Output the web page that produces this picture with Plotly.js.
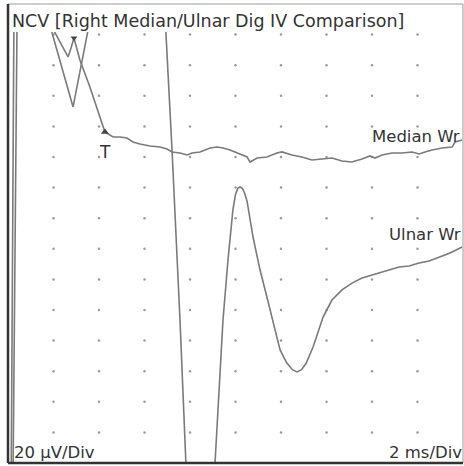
<!DOCTYPE html>
<html>
<head>
<meta charset="utf-8">
<script src="https://cdn.plot.ly/plotly-3.0.1.min.js"></script>
<style>
html,body{margin:0;padding:0;background:#fff;}
#chart{width:464px;height:466px;}
</style>
</head>
<body>
<div id="chart"></div>
<script>
// Time axis in ms (2 ms/Div), amplitude in µV (20 µV/Div)
var medianTime = [0.22,0.40,1.41,1.63,2.07,2.37,2.64,2.77,2.90,3.16,3.60,4.04,4.26,4.62,4.92,5.23,5.49,5.80,6.24,6.68,6.99,7.21,7.56,7.87,8.09,8.44,8.88,9.19,9.45,9.76,10.07,10.51,10.64,10.95,11.38,11.82,12.04,12.48,12.92,13.36,13.80,14.24,14.68,15.12,15.56,15.91,16.13,16.44,16.88,17.32,17.76,18.07,18.33,18.64,19.08,19.52,19.65,19.96];
var medianAmp  = [-11,293,303,293,281.1,273.2,265.4,271.2,277.8,263.4,245.8,226.1,216.3,213.1,213.1,212.4,209.8,208.5,207.2,206.5,205.2,203.3,202.6,201.3,202.6,203.3,205.9,206.5,205.9,204.6,202.6,200.0,196.7,199.3,200.0,202.6,203.3,201.3,200.0,198.0,198.7,199.3,197.4,196.7,198.7,200.7,199.3,201.3,202.6,202.6,203.3,202.0,203.3,204.6,205.9,206.5,209.8,211.1];

var ulnarTime = [0.14,0.26,1.41,1.71,2.86,3.65,5.27,6.90,7.21,7.56,7.82,7.87,8.44,9.05,9.10,9.32,9.45,9.67,9.89,10.00,10.10,10.20,10.30,10.40,10.51,10.77,11.08,11.38,11.65,11.96,12.25,12.50,12.70,12.90,13.10,13.41,13.85,14.24,14.68,15.12,15.56,16.00,16.57,17.19,17.63,18.07,18.51,18.95,19.43,19.96];
var ulnarAmp  = [-11,290,300,293,232.7,293,303,293,204.6,93.5,0,-11,-24,-11,0,54.2,93.5,132.7,166.0,175.5,179.5,180.4,179.5,176.5,171.0,147.7,126.1,108.5,91.5,73.9,65.5,61.0,59.5,61.0,65.0,75.8,95.4,106.5,113.1,117.6,120.9,122.9,125.5,128.1,128.8,130.7,132.0,134.6,137.3,141.2];

// cursor markers
var peakMarkerTime = [2.90], peakMarkerAmp = [277.8];
var takeoffMarkerTime = [4.26], takeoffMarkerAmp = [216.3];
var takeoffLabel = ['T'];

// grid dots (divisions)
var gridTimes = [2,4,6,8,10,12,14,16,18];
var gridAmps = [20,40,60,80,100,120,140,160,180,200,220,240,260,280];

var traceLabels = ['Median Wr','Ulnar Wr'];
var titleText = 'NCV [Right Median/Ulnar Dig IV Comparison]';
var sensLabel = '20 µV/Div';
var sweepLabel = '2 ms/Div';

var W = 464, H = 466;
var L = 8, R = 463, T = 32, B = 463;
function px(x){ return (x - L) / (R - L); }
function py(y){ return (B - y) / (B - T); }

var dotX = [], dotY = [];
gridTimes.forEach(function(t){ gridAmps.forEach(function(a){ dotX.push(t); dotY.push(a); }); });

var lineColor = '#7a7a7a';
var data = [
  {x: dotX, y: dotY, mode: 'markers', type: 'scatter', marker: {size: 2.5, color: '#9a9a9a'}, hoverinfo: 'skip', showlegend: false},
  {x: medianTime, y: medianAmp, mode: 'lines', type: 'scatter', line: {color: lineColor, width: 1.6}, showlegend: false},
  {x: ulnarTime, y: ulnarAmp, mode: 'lines', type: 'scatter', line: {color: lineColor, width: 1.6}, showlegend: false},
  {x: peakMarkerTime, y: peakMarkerAmp, mode: 'markers', type: 'scatter', marker: {symbol: 'triangle-down', size: 6, color: '#444'}, showlegend: false},
  {x: takeoffMarkerTime, y: takeoffMarkerAmp, mode: 'markers', type: 'scatter', marker: {symbol: 'triangle-up', size: 7, color: '#444'}, showlegend: false}
];

var fontFam = 'DejaVu Sans, Verdana, sans-serif';
var txtColor = '#333333';
var layout = {
  width: W, height: H,
  margin: {l: L, r: W - R, t: T, b: H - B, pad: 0},
  paper_bgcolor: '#ffffff',
  plot_bgcolor: '#ffffff',
  showlegend: false,
  xaxis: {range: [0, 20], showgrid: false, zeroline: false, showticklabels: false, ticks: '', showline: false, fixedrange: true},
  yaxis: {range: [0, (B - T) * 20 / 30.6], showgrid: false, zeroline: false, showticklabels: false, ticks: '', showline: false, fixedrange: true},
  shapes: [
    {type: 'rect', xref: 'paper', yref: 'paper', x0: 0, x1: 1, y0: 0, y1: py(4), line: {color: '#9a9a9a', width: 1}},
    {type: 'line', xref: 'paper', yref: 'paper', x0: 0, x1: 0, y0: 0, y1: py(4), line: {color: '#333', width: 2.5}},
    {type: 'line', xref: 'paper', yref: 'paper', x0: 0, x1: 1, y0: 0, y1: 0, line: {color: '#333', width: 2.5}}
  ],
  annotations: [
    {text: titleText, xref: 'paper', yref: 'paper', x: px(10), y: py(21), xanchor: 'left', yanchor: 'middle', showarrow: false, font: {family: fontFam, size: 17.5, color: txtColor}},
    {text: takeoffLabel[0], x: takeoffMarkerTime[0], y: takeoffMarkerAmp[0], xref: 'x', yref: 'y', xanchor: 'center', yanchor: 'middle', yshift: -20, showarrow: false, font: {family: fontFam, size: 17, color: txtColor}},
    {text: traceLabels[0], xref: 'paper', yref: 'paper', x: px(462), y: py(137), xanchor: 'right', yanchor: 'middle', showarrow: false, font: {family: fontFam, size: 16.5, color: txtColor}},
    {text: traceLabels[1], xref: 'paper', yref: 'paper', x: px(463), y: py(235), xanchor: 'right', yanchor: 'middle', showarrow: false, font: {family: fontFam, size: 16.5, color: txtColor}},
    {text: sensLabel, xref: 'paper', yref: 'paper', x: px(12), y: py(452), xanchor: 'left', yanchor: 'middle', showarrow: false, font: {family: fontFam, size: 16.5, color: txtColor}},
    {text: sweepLabel, xref: 'paper', yref: 'paper', x: px(464), y: py(452), xanchor: 'right', yanchor: 'middle', showarrow: false, font: {family: fontFam, size: 16.5, color: txtColor}}
  ]
};

Plotly.newPlot('chart', data, layout, {displayModeBar: false, staticPlot: true});
</script>
</body>
</html>
